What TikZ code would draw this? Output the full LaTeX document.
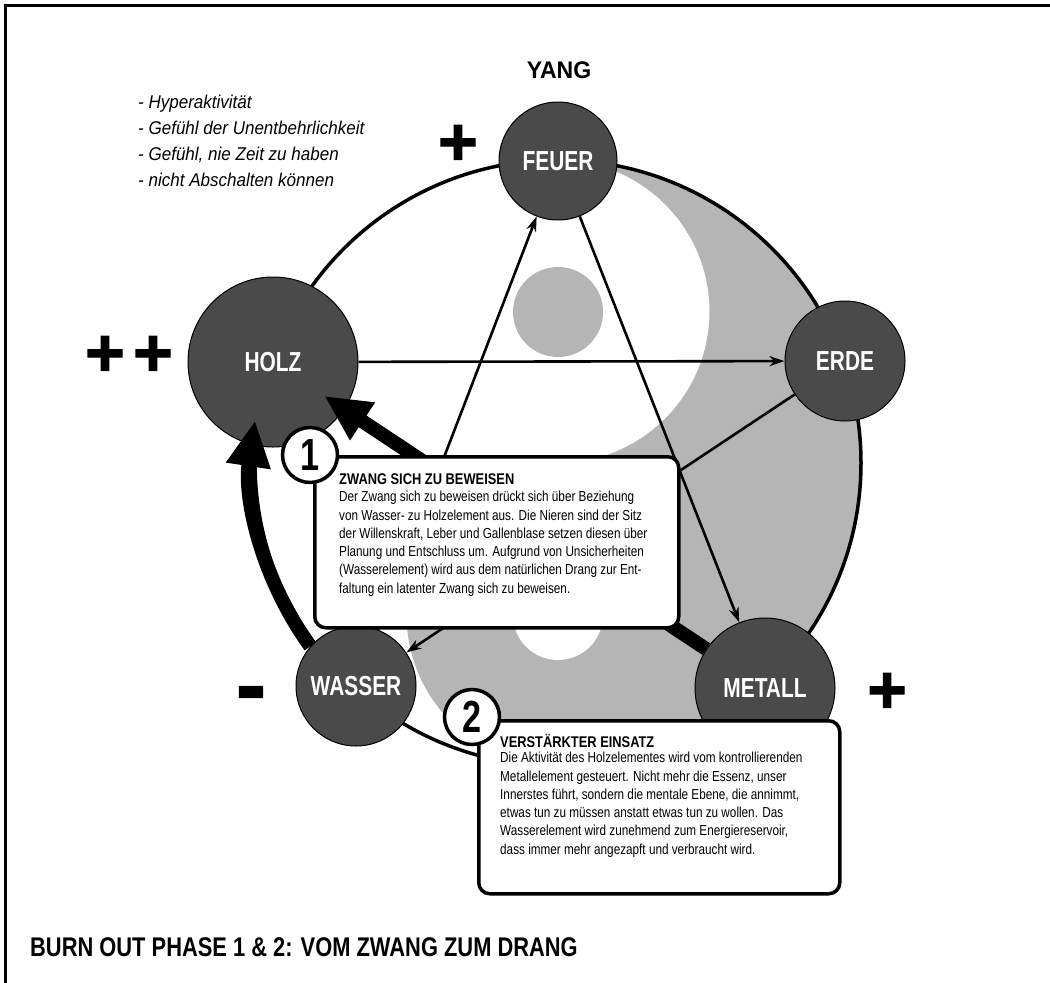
\documentclass[tikz,border=0pt]{standalone}
\usepackage{fontspec}
\setmainfont{Liberation Sans}[FakeStretch=0.76]
\newfontfamily\bodyfont{Liberation Sans}[FakeStretch=0.81]
\newfontfamily\headfont{Liberation Sans}[FakeStretch=0.83]
\newfontfamily\listfont{Liberation Sans}[FakeStretch=0.92]
\newfontfamily\yangfont{Liberation Sans}[FakeStretch=0.96]
\newfontfamily\signfont{Liberation Sans}[FakeBold=1.5]
\usetikzlibrary{arrows.meta}
\definecolor{yinfill}{gray}{0.71}
\definecolor{elemfill}{gray}{0.29}

\tikzset{
  element/.style={circle, fill=elemfill, draw=black, line width=1pt, text=white,
    inner sep=0pt, font=\bfseries\fontsize{27.5}{27.5}\selectfont},
  link/.style={line width=2.6pt, -{Stealth[length=15pt,width=10pt]}},
  force/.style={line width=14pt, -{Triangle[length=46pt,width=42pt]}, shorten >=-24pt},
  infobox/.style={draw=black, fill=white, line width=3.5pt, rounded corners=11pt, inner sep=0pt},
  badge/.style={circle, draw=black, fill=white, line width=3.5pt, inner sep=0pt,
    minimum size=55pt, font=\bfseries\fontsize{45}{45}\selectfont},
  boxtitle/.style={anchor=base west, inner sep=0pt, font=\headfont\bfseries\fontsize{15.5}{18}\selectfont},
  boxtext/.style={anchor=north west, inner sep=0pt, align=left, font=\bodyfont\fontsize{14.5}{18.3}\selectfont},
  sign/.style={inner sep=0pt, font=\signfont\bfseries\fontsize{68}{68}\selectfont},
}

\begin{document}
\begin{tikzpicture}[x=1pt, y=1pt]
  \path[use as bounding box] (0,0) rectangle (1050,-983);
  \fill[white] (0,0) rectangle (1050,-983);

  % frame
  \draw[line width=3pt] (5,-983) -- (5,-5) -- (1050,-5);

  % yin-yang background
  \fill[yinfill] (558,-160) arc[start angle=90, end angle=-90, radius=303]
    arc[start angle=270, end angle=90, radius=151.5]
    arc[start angle=-90, end angle=90, radius=151.5] -- cycle;
  \fill[yinfill] (558,-312) circle[radius=45];
  \fill[white] (558,-615) circle[radius=45];

  % cycle ring
  \draw[line width=3.5pt] (558,-463) circle[radius=303];

  % five elements
  \node[element, minimum size=118pt] (feuer)  at (558,-161) {FEUER};
  \node[element, minimum size=120pt] (erde)   at (845,-361) {ERDE};
  \node[element, minimum size=170pt] (holz)   at (273,-362) {HOLZ};
  \node[element, minimum size=120pt] (wasser) at (356,-686) {WASSER};
  \node[element, minimum size=140pt] (metall) at (765,-688) {METALL};

  % control cycle
  \draw[link] (holz) -- (erde);
  \draw[link] (wasser) -- (feuer);
  \draw[link] (feuer) -- (metall);
  \draw[link] (erde) -- (wasser);

  % strengthened relations
  \draw[force] (metall) -- (holz);
  \draw[force, shorten >=0pt] (wasser.139) arc[start angle=216, end angle=171.5, radius=307];

  % explanation boxes
  \node[infobox, anchor=north west, minimum width=364pt, minimum height=171pt] (box1) at (313,-455) {};
  \node[badge] (n1) at (310,-455) {1};
  \node[boxtitle] (t1) at (339,-484.5) {ZWANG SICH ZU BEWEISEN};
  \node[boxtext] (b1) at (339,-491) {Der Zwang sich zu beweisen drückt sich über Beziehung\\
    von Wasser- zu Holzelement aus. Die Nieren sind der Sitz\\
    der Willenskraft, Leber und Gallenblase setzen diesen über\\
    Planung und Entschluss um. Aufgrund von Unsicherheiten\\
    (Wasserelement) wird aus dem natürlichen Drang zur Ent-\\
    faltung ein latenter Zwang sich zu beweisen.};

  \node[infobox, anchor=north west, minimum width=361pt, minimum height=173pt] (box2) at (477,-719) {};
  \node[badge] (n2) at (472,-717) {2};
  \node[boxtitle] (t2) at (500,-747.5) {VERSTÄRKTER EINSATZ};
  \node[boxtext] (b2) at (500,-752) {Die Aktivität des Holzelementes wird vom kontrollierenden\\
    Metallelement gesteuert. Nicht mehr die Essenz, unser\\
    Innerstes führt, sondern die mentale Ebene, die annimmt,\\
    etwas tun zu müssen anstatt etwas tun zu wollen. Das\\
    Wasserelement wird zunehmend zum Energiereservoir,\\
    dass immer mehr angezapft und verbraucht wird.};

  % labels
  \node[font=\yangfont\bfseries\fontsize{24}{24}\selectfont] (yang) at (559,-70.5) {YANG};
  \node[anchor=north west, align=left, inner sep=0pt, font=\listfont\itshape\fontsize{18.5}{25.8}\selectfont]
    (symptoms) at (138,-95) {- Hyperaktivität\\- Gefühl der Unentbehrlichkeit\\- Gefühl, nie Zeit zu haben\\- nicht Abschalten können};

  \node[sign] (plusfeuer) at (458,-145) {+};
  \node[sign] (plusholza) at (105,-356) {+};
  \node[sign] (plusholzb) at (153,-356) {+};
  \node[sign, font=\signfont\bfseries\fontsize{90}{90}\selectfont] (minuswasser) at (251,-701) {-};
  \node[sign] (plusmetall) at (887,-693) {+};

  \node[anchor=base west, inner sep=0pt, font=\bodyfont\bfseries\fontsize{27}{27}\selectfont]
    (title) at (30,-956) {BURN OUT PHASE 1 \& 2: VOM ZWANG ZUM DRANG};
\end{tikzpicture}
\end{document}
